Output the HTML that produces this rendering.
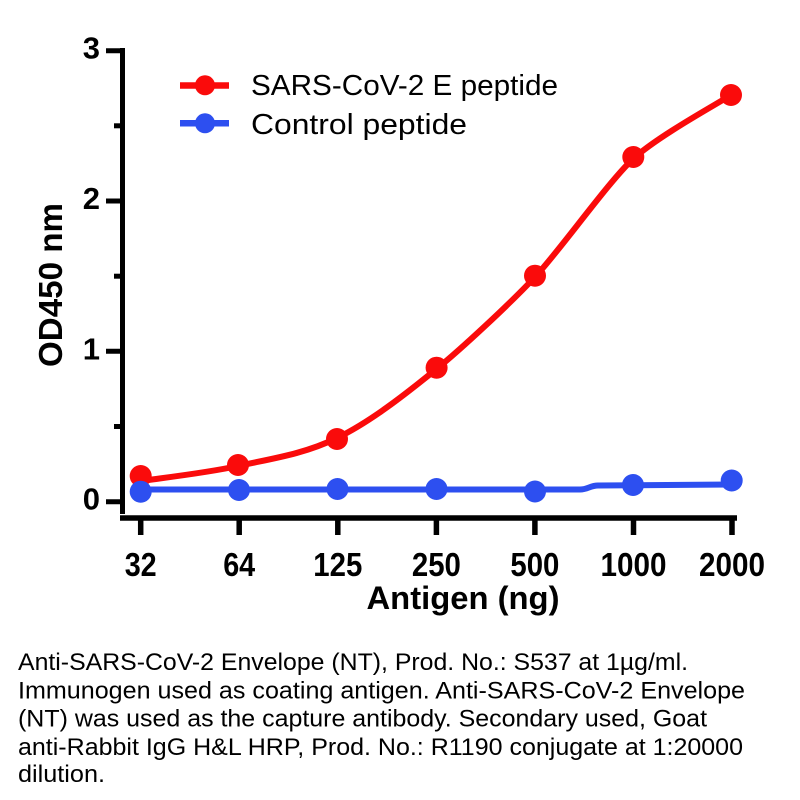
<!DOCTYPE html>
<html>
<head>
<meta charset="utf-8">
<style>
html,body{margin:0;padding:0;background:#fff;}
svg{display:block;}
text{font-family:"Liberation Sans",Arial,sans-serif;}
</style>
</head>
<body>
<svg width="800" height="800" viewBox="0 0 800 800" xmlns="http://www.w3.org/2000/svg">
<rect width="800" height="800" fill="#fff"/>
<!-- Y axis -->
<line x1="122.5" y1="48" x2="122.5" y2="514" stroke="#000" stroke-width="5"/>
<g stroke="#000" stroke-width="5">
<line x1="106" y1="50.7" x2="123" y2="50.7"/>
<line x1="106" y1="201" x2="123" y2="201"/>
<line x1="106" y1="351.3" x2="123" y2="351.3"/>
<line x1="106" y1="501.7" x2="123" y2="501.7"/>
<line x1="114" y1="125.8" x2="123" y2="125.8"/>
<line x1="114" y1="276.2" x2="123" y2="276.2"/>
<line x1="114" y1="426.5" x2="123" y2="426.5"/>
</g>
<!-- X axis -->
<line x1="120" y1="518" x2="737" y2="518" stroke="#000" stroke-width="5.5"/>
<g stroke="#000" stroke-width="5.5">
<line x1="140.7" y1="518" x2="140.7" y2="535"/>
<line x1="239.2" y1="518" x2="239.2" y2="535"/>
<line x1="337.8" y1="518" x2="337.8" y2="535"/>
<line x1="436.4" y1="518" x2="436.4" y2="535"/>
<line x1="534.9" y1="518" x2="534.9" y2="535"/>
<line x1="633.5" y1="518" x2="633.5" y2="535"/>
<line x1="732" y1="518" x2="732" y2="535"/>
</g>
<!-- Y tick labels -->
<g font-size="31" font-weight="bold" text-anchor="end" fill="#000">
<text x="100" y="58.5">3</text>
<text x="100" y="209">2</text>
<text x="100" y="359.3">1</text>
<text x="100" y="509.7">0</text>
</g>
<!-- X tick labels -->
<g font-size="33" font-weight="bold" text-anchor="middle" fill="#000" lengthAdjust="spacingAndGlyphs">
<text x="140.7" y="576" textLength="32" lengthAdjust="spacingAndGlyphs">32</text>
<text x="239.2" y="576" textLength="32" lengthAdjust="spacingAndGlyphs">64</text>
<text x="337.8" y="576" textLength="49" lengthAdjust="spacingAndGlyphs">125</text>
<text x="436.4" y="576" textLength="49" lengthAdjust="spacingAndGlyphs">250</text>
<text x="534.9" y="576" textLength="49" lengthAdjust="spacingAndGlyphs">500</text>
<text x="633.5" y="576" textLength="66" lengthAdjust="spacingAndGlyphs">1000</text>
<text x="732" y="576" textLength="66" lengthAdjust="spacingAndGlyphs">2000</text>
</g>
<!-- Axis titles -->
<text x="463" y="609" font-size="32" font-weight="bold" text-anchor="middle" textLength="193" lengthAdjust="spacingAndGlyphs">Antigen (ng)</text>
<text transform="translate(62,285) rotate(-90)" font-size="33" font-weight="bold" text-anchor="middle" textLength="164" lengthAdjust="spacingAndGlyphs">OD450 nm</text>

<!-- Red series -->
<path d="M141 481 C157.2 478.5 205.3 473.2 238 466 C270.7 458.8 303.9 454.2 337 438 C370.1 421.8 403.5 395.8 436.5 369 C461.25 348.9 510.4 303.25 535 277 C559.6 250.75 608.5 181.75 633 159 C657.5 136.25 718.75 103 731 95" fill="none" stroke="#fa0b0b" stroke-width="6" stroke-linecap="round"/>
<g fill="#fa0b0b">
<circle cx="140.7" cy="476" r="11"/>
<circle cx="238" cy="465" r="11"/>
<circle cx="337" cy="439" r="11"/>
<circle cx="436.6" cy="367.7" r="11"/>
<circle cx="535" cy="275.7" r="11"/>
<circle cx="633.3" cy="157" r="11"/>
<circle cx="731" cy="95" r="11"/>
</g>
<!-- Blue series -->
<path d="M141 489.5 L580 489.5 C588 489.5 590 485.5 598 485.5 L731 484.5" fill="none" stroke="#2d4ff0" stroke-width="6" stroke-linecap="round"/>
<g fill="#2d4ff0">
<circle cx="140.7" cy="491.7" r="11"/>
<circle cx="239" cy="490" r="11"/>
<circle cx="337.5" cy="489" r="11"/>
<circle cx="436.5" cy="489" r="11"/>
<circle cx="535" cy="491.5" r="11"/>
<circle cx="633" cy="485" r="11"/>
<circle cx="731.7" cy="480.5" r="11"/>
</g>

<!-- Legend -->
<line x1="180" y1="85.5" x2="229" y2="85.5" stroke="#fa0b0b" stroke-width="6.5"/>
<circle cx="205" cy="85.3" r="10" fill="#fa0b0b"/>
<line x1="180" y1="123.3" x2="229" y2="123.3" stroke="#2d4ff0" stroke-width="6.5"/>
<circle cx="205" cy="123.3" r="10" fill="#2d4ff0"/>
<text x="251" y="95" font-size="29" fill="#000" textLength="307" lengthAdjust="spacingAndGlyphs">SARS-CoV-2 E peptide</text>
<text x="251" y="134" font-size="29" fill="#000" textLength="216" lengthAdjust="spacingAndGlyphs">Control peptide</text>

<!-- Caption -->
<g font-size="24" fill="#000">
<text x="18" y="670" textLength="670" lengthAdjust="spacingAndGlyphs">Anti-SARS-CoV-2 Envelope (NT), Prod. No.: S537 at 1µg/ml.</text>
<text x="18" y="698.3" textLength="727" lengthAdjust="spacingAndGlyphs">Immunogen used as coating antigen. Anti-SARS-CoV-2 Envelope</text>
<text x="18" y="726.7" textLength="689" lengthAdjust="spacingAndGlyphs">(NT) was used as the capture antibody. Secondary used, Goat</text>
<text x="18" y="755" textLength="725" lengthAdjust="spacingAndGlyphs">anti-Rabbit IgG H&amp;L HRP, Prod. No.: R1190 conjugate at 1:20000</text>
<text x="18" y="782" textLength="87" lengthAdjust="spacingAndGlyphs">dilution.</text>
</g>
</svg>
</body>
</html>
